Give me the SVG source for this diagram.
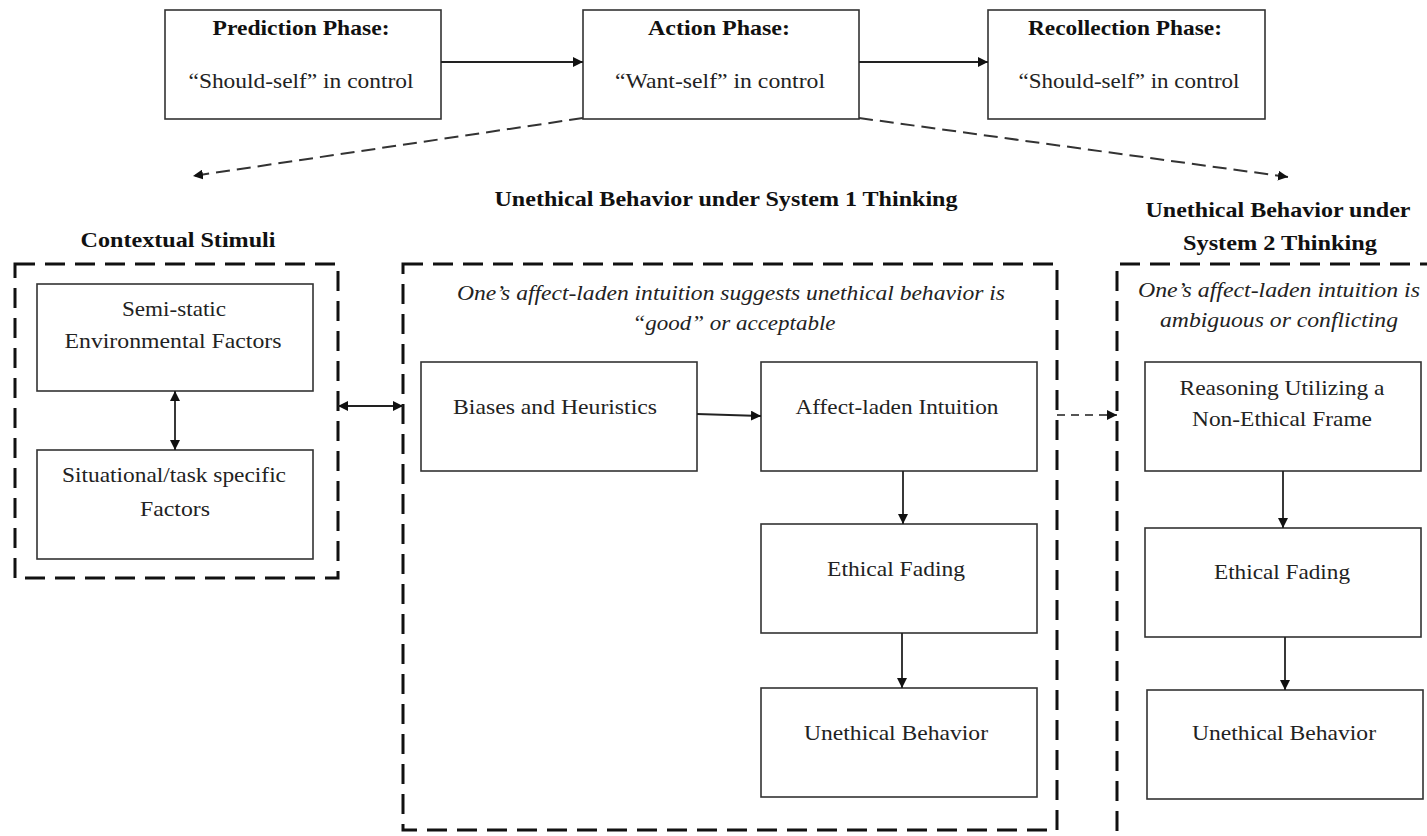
<svg xmlns="http://www.w3.org/2000/svg" width="1427" height="836" viewBox="0 0 1427 836">
<defs>
<marker id="ah" viewBox="0 0 10 10" refX="10" refY="5" markerWidth="10" markerHeight="10" markerUnits="userSpaceOnUse" orient="auto-start-reverse">
<path d="M0,0 L10,5 L0,10 z" fill="#111"/>
</marker>
<style>
.box{fill:#fff;stroke:#333;stroke-width:1.6}
.grp{fill:none;stroke:#111;stroke-width:3;stroke-dasharray:20 10}
.t{font-family:"Liberation Serif","Times New Roman",serif;font-size:21px;fill:#222;text-anchor:middle}
.b{font-weight:bold;fill:#111}
.i{font-family:"Liberation Serif","Times New Roman",serif;font-style:italic;font-size:21px;fill:#222;text-anchor:middle}
.c{fill:none;stroke:#222;stroke-width:1.8}
.d{fill:none;stroke:#333;stroke-width:2;stroke-dasharray:14 7}
.d2{fill:none;stroke:#555;stroke-width:2;stroke-dasharray:8 6}
</style>
</defs>
<rect width="1427" height="836" fill="#fff"/>

<g id="titles">
<text class="t b" x="726" y="206" textLength="463" lengthAdjust="spacingAndGlyphs">Unethical Behavior under System 1 Thinking</text>
<text class="t b" x="178" y="247" textLength="195" lengthAdjust="spacingAndGlyphs">Contextual Stimuli</text>
<text class="t b" x="1278" y="217" textLength="265" lengthAdjust="spacingAndGlyphs">Unethical Behavior under</text>
<text class="t b" x="1280" y="250" textLength="194" lengthAdjust="spacingAndGlyphs">System 2 Thinking</text>
</g>

<g id="contextual-group">
<rect class="grp" x="15" y="264" width="323" height="314"/>
</g>
<g id="system1-group">
<rect class="grp" x="403" y="264" width="654" height="566"/>
<text class="i" x="731" y="300" textLength="548" lengthAdjust="spacingAndGlyphs">One’s affect-laden intuition suggests unethical behavior is</text>
<text class="i" x="734" y="330" textLength="203" lengthAdjust="spacingAndGlyphs">“good” or acceptable</text>
</g>
<g id="system2-group">
<path class="grp" d="M1440,264 H1117 V850"/>
<text class="i" x="1279" y="297" textLength="282" lengthAdjust="spacingAndGlyphs">One’s affect-laden intuition is</text>
<text class="i" x="1279" y="327" textLength="238" lengthAdjust="spacingAndGlyphs">ambiguous or conflicting</text>
</g>

<g id="prediction">
<rect class="box" x="165" y="10" width="276" height="109"/>
<text class="t b" x="301" y="35" textLength="177" lengthAdjust="spacingAndGlyphs">Prediction Phase:</text>
<text class="t" x="301" y="88" textLength="225" lengthAdjust="spacingAndGlyphs">“Should-self” in control</text>
</g>
<g id="action">
<rect class="box" x="583" y="10" width="276" height="109"/>
<text class="t b" x="719" y="35" textLength="142" lengthAdjust="spacingAndGlyphs">Action Phase:</text>
<text class="t" x="720" y="88" textLength="210" lengthAdjust="spacingAndGlyphs">“Want-self” in control</text>
</g>
<g id="recollection">
<rect class="box" x="988" y="10" width="277" height="109"/>
<text class="t b" x="1125" y="35" textLength="194" lengthAdjust="spacingAndGlyphs">Recollection Phase:</text>
<text class="t" x="1129" y="88" textLength="221" lengthAdjust="spacingAndGlyphs">“Should-self” in control</text>
</g>

<g id="semi-static">
<rect class="box" x="37" y="284" width="276" height="107"/>
<text class="t" x="174" y="316" textLength="104" lengthAdjust="spacingAndGlyphs">Semi-static</text>
<text class="t" x="173" y="348" textLength="217" lengthAdjust="spacingAndGlyphs">Environmental Factors</text>
</g>
<g id="situational">
<rect class="box" x="37" y="450" width="276" height="109"/>
<text class="t" x="174" y="482" textLength="224" lengthAdjust="spacingAndGlyphs">Situational/task specific</text>
<text class="t" x="175" y="516" textLength="70" lengthAdjust="spacingAndGlyphs">Factors</text>
</g>

<g id="biases">
<rect class="box" x="421" y="362" width="276" height="109"/>
<text class="t" x="555" y="414" textLength="204" lengthAdjust="spacingAndGlyphs">Biases and Heuristics</text>
</g>
<g id="affect">
<rect class="box" x="761" y="362" width="276" height="109"/>
<text class="t" x="897" y="414" textLength="203" lengthAdjust="spacingAndGlyphs">Affect-laden Intuition</text>
</g>
<g id="fading1">
<rect class="box" x="761" y="524" width="276" height="109"/>
<text class="t" x="896" y="576" textLength="138" lengthAdjust="spacingAndGlyphs">Ethical Fading</text>
</g>
<g id="unethical1">
<rect class="box" x="761" y="688" width="276" height="109"/>
<text class="t" x="896" y="740" textLength="184" lengthAdjust="spacingAndGlyphs">Unethical Behavior</text>
</g>

<g id="reasoning">
<rect class="box" x="1145" y="362" width="276" height="109"/>
<text class="t" x="1282" y="395" textLength="205" lengthAdjust="spacingAndGlyphs">Reasoning Utilizing a</text>
<text class="t" x="1282" y="426" textLength="180" lengthAdjust="spacingAndGlyphs">Non-Ethical Frame</text>
</g>
<g id="fading2">
<rect class="box" x="1145" y="528" width="276" height="109"/>
<text class="t" x="1282" y="579" textLength="136" lengthAdjust="spacingAndGlyphs">Ethical Fading</text>
</g>
<g id="unethical2">
<rect class="box" x="1147" y="690" width="276" height="109"/>
<text class="t" x="1284" y="740" textLength="184" lengthAdjust="spacingAndGlyphs">Unethical Behavior</text>
</g>

<g id="connectors">
<line class="c" x1="441" y1="62" x2="583" y2="62" marker-end="url(#ah)"/>
<line class="c" x1="859" y1="62" x2="988" y2="62" marker-end="url(#ah)"/>
<line class="d" x1="583" y1="118" x2="193" y2="176" marker-end="url(#ah)"/>
<line class="d" x1="859" y1="118" x2="1288" y2="177" marker-end="url(#ah)"/>
<line class="c" x1="175" y1="391" x2="175" y2="450" marker-start="url(#ah)" marker-end="url(#ah)"/>
<line class="c" x1="338" y1="406" x2="403" y2="406" marker-start="url(#ah)" marker-end="url(#ah)"/>
<line class="c" x1="697" y1="414" x2="761" y2="416" marker-end="url(#ah)"/>
<line class="c" x1="903" y1="471" x2="903" y2="524" marker-end="url(#ah)"/>
<line class="c" x1="902" y1="633" x2="902" y2="688" marker-end="url(#ah)"/>
<line class="d2" x1="1057" y1="415" x2="1117" y2="415" marker-end="url(#ah)"/>
<line class="c" x1="1283" y1="471" x2="1283" y2="528" marker-end="url(#ah)"/>
<line class="c" x1="1285" y1="637" x2="1285" y2="690" marker-end="url(#ah)"/>
</g>
</svg>
